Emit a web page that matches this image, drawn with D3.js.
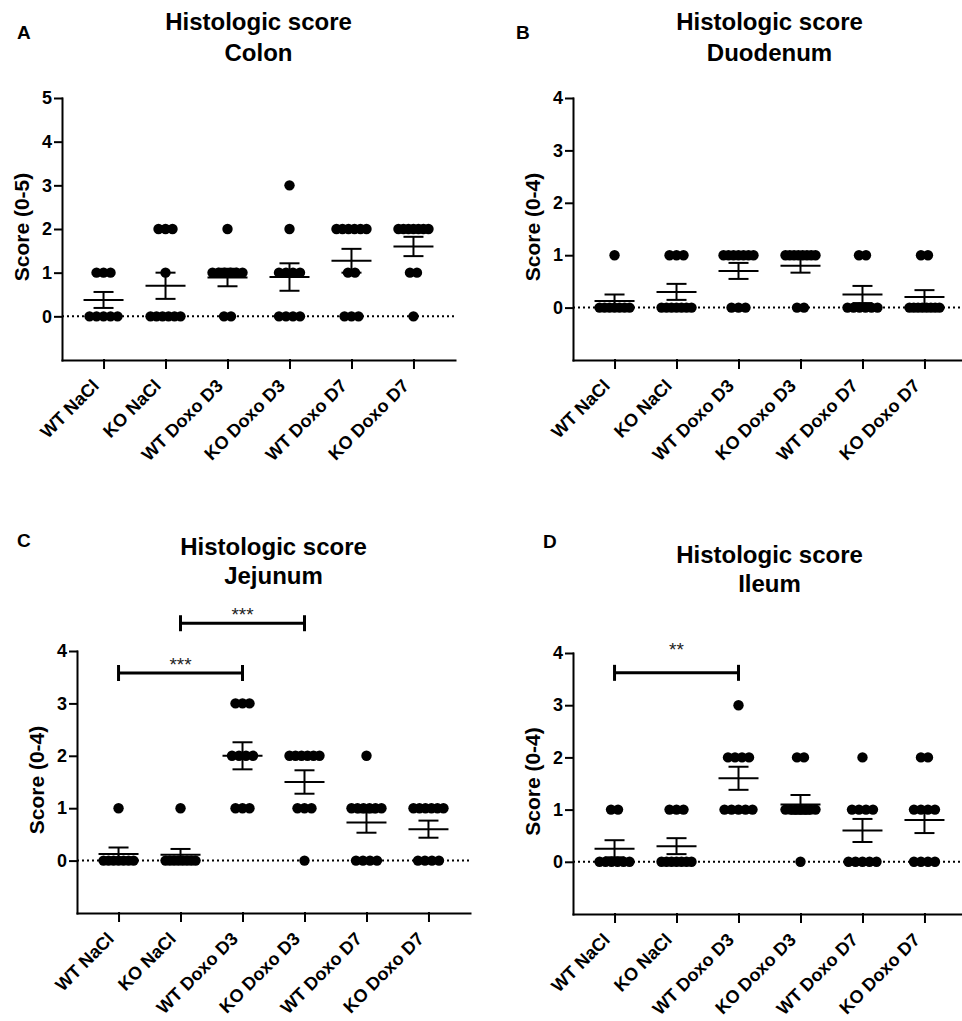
<!DOCTYPE html>
<html>
<head>
<meta charset="utf-8">
<script src="https://cdn.jsdelivr.net/npm/d3@7"></script>
<style>
  body { margin: 0; background: #fff; }
  text { font-family: "Liberation Sans", Arial, sans-serif; }
</style>
</head>
<body>
<div id="draw"></div>
<script>
// groups on the x axis, same for every panel
const groups = ['WT NaCl', 'KO NaCl', 'WT Doxo D3', 'KO Doxo D3', 'WT Doxo D7', 'KO Doxo D7'];

// individual scores per group
const colon = [
    [1, 1, 1, 0, 0, 0, 0, 0],
    [2, 2, 2, 1, 0, 0, 0, 0, 0, 0],
    [2, 1, 1, 1, 1, 1, 1, 0, 0],
    [3, 2, 1, 1, 1, 1, 0, 0, 0, 0],
    [2, 2, 2, 2, 2, 2, 1, 1, 0, 0, 0],
    [2, 2, 2, 2, 2, 2, 2, 1, 1, 0]
];
const duodenum = [
    [1, 0, 0, 0, 0, 0, 0, 0],
    [1, 1, 1, 0, 0, 0, 0, 0, 0, 0],
    [1, 1, 1, 1, 1, 1, 1, 0, 0, 0],
    [1, 1, 1, 1, 1, 1, 1, 1, 0, 0],
    [1, 1, 0, 0, 0, 0, 0, 0],
    [1, 1, 0, 0, 0, 0, 0, 0, 0, 0]
];
const jejunum = [
    [1, 0, 0, 0, 0, 0, 0, 0],
    [1, 0, 0, 0, 0, 0, 0, 0, 0],
    [3, 3, 3, 2, 2, 2, 2, 1, 1, 1],
    [2, 2, 2, 2, 2, 2, 1, 1, 1, 0],
    [2, 1, 1, 1, 1, 1, 1, 0, 0, 0, 0],
    [1, 1, 1, 1, 1, 1, 0, 0, 0, 0]
];
const ileum = [
    [1, 1, 0, 0, 0, 0, 0, 0],
    [1, 1, 1, 0, 0, 0, 0, 0, 0, 0],
    [3, 2, 2, 2, 2, 1, 1, 1, 1, 1],
    [2, 2, 1, 1, 1, 1, 1, 1, 1, 0],
    [2, 1, 1, 1, 1, 0, 0, 0, 0, 0],
    [2, 2, 1, 1, 1, 1, 0, 0, 0, 0]
];

// significance brackets (group index from/to, height in score units)
const jejunumSig = [
    { from: 0, to: 2, y: 3.58, label: '***' },
    { from: 1, to: 3, y: 4.53, label: '***' }
];
const ileumSig = [
    { from: 0, to: 2, y: 3.62, label: '**' }
];

let width = 962,
    height = 1021,
    axisW = 393;

let svg = d3.select('#draw')
    .append('svg')
    .attr('width', width)
    .attr('height', height);

let panels = [
    { letter: 'A', organ: 'Colon', data: colon, max: 5, sig: [],
      x0: 62, yTop: 98, yBot: 360, lx: 17, ly: 39, t1: 30, t2: 61, starGap: [] },
    { letter: 'B', organ: 'Duodenum', data: duodenum, max: 4, sig: [],
      x0: 573, yTop: 98, yBot: 360, lx: 516, ly: 39, t1: 30, t2: 61, starGap: [] },
    { letter: 'C', organ: 'Jejunum', data: jejunum, max: 4, sig: jejunumSig,
      x0: 77, yTop: 651, yBot: 913, lx: 17, ly: 547, t1: 555, t2: 584, starGap: [2, 2] },
    { letter: 'D', organ: 'Ileum', data: ileum, max: 4, sig: ileumSig,
      x0: 573, yTop: 653, yBot: 914, lx: 543, ly: 548, t1: 563, t2: 592, starGap: [17] }
];

panels.forEach(p => {
    let yScale = d3.scaleLinear().domain([-1, p.max]).range([p.yBot, p.yTop]),
        xScale = d3.scalePoint().domain(groups).range([p.x0, p.x0 + axisW]).padding(0.67);
    let g = svg.append('g');
    let cx = p.x0 + axisW / 2;

    // panel letter and title
    g.append('text').attr('x', p.lx).attr('y', p.ly).text(p.letter)
        .style('font-size', '19px').style('font-weight', 'bold');
    g.append('text').attr('x', cx).attr('y', p.t1).text('Histologic score')
        .attr('text-anchor', 'middle').style('font-size', '24px').style('font-weight', 'bold');
    g.append('text').attr('x', cx).attr('y', p.t2).text(p.organ)
        .attr('text-anchor', 'middle').style('font-size', '24px').style('font-weight', 'bold');

    // dotted zero line
    g.append('line')
        .attr('x1', p.x0).attr('x2', p.x0 + axisW)
        .attr('y1', yScale(0)).attr('y2', yScale(0))
        .attr('stroke', '#000').attr('stroke-width', 2).attr('stroke-dasharray', '2,3');

    // axes
    let yAxis = g.append('g')
        .attr('transform', 'translate(' + p.x0 + ',0)')
        .call(d3.axisLeft(yScale).tickValues(d3.range(0, p.max + 1)).tickFormat(d3.format('d'))
            .tickSize(7).tickSizeOuter(0).tickPadding(3));
    let xAxis = g.append('g')
        .attr('transform', 'translate(0,' + p.yBot + ')')
        .call(d3.axisBottom(xScale).tickSize(8).tickSizeOuter(0));
    [yAxis, xAxis].forEach(a => {
        a.selectAll('path, line').attr('stroke-width', 2).attr('stroke-linecap', 'square');
        a.selectAll('text').style('font-size', '18px').style('font-weight', 'bold')
            .style('font-family', '"Liberation Sans", Arial, sans-serif');
    });
    xAxis.selectAll('text')
        .attr('text-anchor', 'end')
        .attr('x', 0).attr('y', 0).attr('dy', 0)
        .attr('transform', 'translate(-4,27) rotate(-45)');

    g.append('text')
        .attr('transform', 'translate(' + (p.x0 - 33) + ',' + ((p.yTop + p.yBot) / 2 - 2) + ') rotate(-90)')
        .attr('text-anchor', 'middle')
        .text('Score (0-' + p.max + ')')
        .style('font-size', '21px').style('font-weight', 'bold');

    // dots, spread sideways within each score level
    let dots = [];
    p.data.forEach((vals, i) => {
        d3.group(vals, v => v).forEach((arr, v) => {
            let n = arr.length,
                step = n > 1 ? Math.min(7, 30 / (n - 1)) : 0;
            arr.forEach((_, j) => dots.push({ x: xScale(groups[i]) + (j - (n - 1) / 2) * step, v: v }));
        });
    });
    g.append('g').selectAll('circle')
        .data(dots)
        .enter()
        .append('circle')
        .attr('cx', d => d.x)
        .attr('cy', d => yScale(d.v))
        .attr('r', 5.2)
        .attr('fill', '#000');

    // mean with SEM
    let stats = p.data.map((vals, i) => ({
        x: xScale(groups[i]),
        m: d3.mean(vals),
        sem: d3.deviation(vals) / Math.sqrt(vals.length)
    }));
    let err = g.append('g').attr('stroke', '#000').attr('stroke-width', 2);
    stats.forEach(s => {
        err.append('line').attr('x1', s.x - 20).attr('x2', s.x + 20).attr('y1', yScale(s.m)).attr('y2', yScale(s.m));
        err.append('line').attr('x1', s.x).attr('x2', s.x).attr('y1', yScale(s.m - s.sem)).attr('y2', yScale(s.m + s.sem));
        [s.m - s.sem, s.m + s.sem].forEach(e => {
            err.append('line').attr('x1', s.x - 10).attr('x2', s.x + 10).attr('y1', yScale(e)).attr('y2', yScale(e));
        });
    });

    // significance brackets
    p.sig.forEach((b, k) => {
        let xa = xScale(groups[b.from]), xb = xScale(groups[b.to]), yy = yScale(b.y);
        let br = g.append('g').attr('stroke', '#000').attr('stroke-width', 3);
        br.append('line').attr('x1', xa).attr('x2', xb).attr('y1', yy).attr('y2', yy);
        br.append('line').attr('x1', xa).attr('x2', xa).attr('y1', yy - 8).attr('y2', yy + 8);
        br.append('line').attr('x1', xb).attr('x2', xb).attr('y1', yy - 8).attr('y2', yy + 8);
        g.append('text')
            .attr('x', (xa + xb) / 2)
            .attr('y', yy - p.starGap[k])
            .attr('text-anchor', 'middle')
            .text(b.label)
            .style('font-size', '19px')
            .attr('fill', '#222');
    });
});
</script>
</body>
</html>
